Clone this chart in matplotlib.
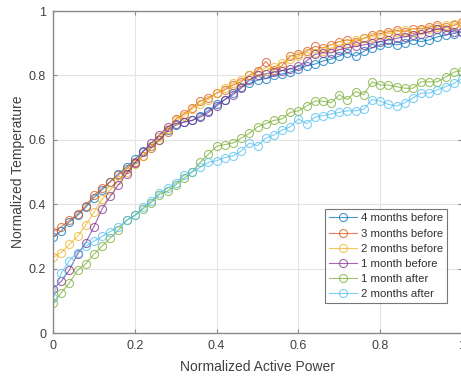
import numpy as np
import matplotlib
matplotlib.use("Agg")
import matplotlib.pyplot as plt
from matplotlib.ticker import FuncFormatter

x_power = [i / 50 for i in range(51)]

series_labels = ["4 months before", "3 months before", "2 months before",
                 "1 month before", "1 month after", "2 months after"]

months4_before = [0.297, 0.317, 0.345, 0.365, 0.39, 0.42, 0.445, 0.47, 0.495, 0.515,
                  0.54, 0.565, 0.58, 0.6, 0.63, 0.645, 0.655, 0.66, 0.675, 0.69,
                  0.71, 0.725, 0.745, 0.765, 0.775, 0.785, 0.79, 0.8, 0.805, 0.81,
                  0.82, 0.83, 0.835, 0.845, 0.85, 0.86, 0.87, 0.86, 0.875, 0.885,
                  0.895, 0.9, 0.895, 0.9, 0.91, 0.905, 0.91, 0.92, 0.925, 0.93, 0.935]
months3_before = [0.315, 0.33, 0.35, 0.37, 0.395, 0.428, 0.449, 0.47, 0.49, 0.51,
                  0.53, 0.55, 0.575, 0.6, 0.625, 0.665, 0.68, 0.70, 0.72, 0.73,
                  0.745, 0.755, 0.77, 0.78, 0.80, 0.815, 0.843, 0.817, 0.83, 0.86,
                  0.865, 0.875, 0.89, 0.885, 0.895, 0.905, 0.91, 0.905, 0.915, 0.925,
                  0.93, 0.935, 0.94, 0.935, 0.945, 0.945, 0.95, 0.955, 0.95, 0.955, 0.965]
months2_before = [0.235, 0.25, 0.275, 0.30, 0.335, 0.375, 0.415, 0.445, 0.475, 0.50,
                  0.525, 0.55, 0.58, 0.61, 0.635, 0.66, 0.675, 0.695, 0.71, 0.725,
                  0.745, 0.76, 0.775, 0.785, 0.80, 0.81, 0.815, 0.825, 0.84, 0.85,
                  0.86, 0.87, 0.87, 0.875, 0.885, 0.895, 0.90, 0.91, 0.915, 0.92,
                  0.925, 0.93, 0.935, 0.94, 0.935, 0.94, 0.945, 0.95, 0.955, 0.96, 0.96]
month1_before = [0.138, 0.16, 0.195, 0.245, 0.28, 0.33, 0.385, 0.425, 0.46, 0.495,
                 0.527, 0.563, 0.59, 0.615, 0.64, 0.65, 0.655, 0.66, 0.67, 0.685,
                 0.705, 0.725, 0.74, 0.76, 0.785, 0.80, 0.805, 0.81, 0.815, 0.82,
                 0.828, 0.845, 0.865, 0.87, 0.87, 0.88, 0.885, 0.89, 0.895, 0.90,
                 0.905, 0.91, 0.915, 0.92, 0.925, 0.93, 0.935, 0.945, 0.94, 0.935, 0.935]
month1_after = [0.092, 0.125, 0.155, 0.195, 0.215, 0.245, 0.27, 0.295, 0.32, 0.35,
                0.365, 0.385, 0.405, 0.43, 0.44, 0.46, 0.48, 0.50, 0.53, 0.555,
                0.58, 0.585, 0.59, 0.605, 0.62, 0.64, 0.65, 0.66, 0.665, 0.685,
                0.69, 0.705, 0.72, 0.72, 0.715, 0.74, 0.725, 0.75, 0.74, 0.78,
                0.77, 0.77, 0.765, 0.76, 0.76, 0.78, 0.78, 0.78, 0.795, 0.81, 0.815]
months2_after = [0.11, 0.185, 0.225, 0.25, 0.27, 0.285, 0.30, 0.315, 0.33, 0.35,
                 0.365, 0.39, 0.41, 0.435, 0.45, 0.465, 0.49, 0.50, 0.515, 0.53,
                 0.535, 0.545, 0.55, 0.565, 0.59, 0.582, 0.605, 0.615, 0.63, 0.64,
                 0.665, 0.65, 0.67, 0.675, 0.68, 0.685, 0.69, 0.69, 0.695, 0.725,
                 0.72, 0.71, 0.705, 0.715, 0.73, 0.745, 0.745, 0.755, 0.765, 0.775, 0.79]

all_series = [months4_before, months3_before, months2_before,
              month1_before, month1_after, months2_after]
colors = ["#0072BD", "#D95319", "#EDB120", "#7E2F8E", "#77AC30", "#4DBEEE"]

x_ticks = [0, 0.2, 0.4, 0.6, 0.8, 1]
y_ticks = [0, 0.2, 0.4, 0.6, 0.8, 1]

plt.rcParams['font.family'] = ['Liberation Sans', 'DejaVu Sans']

fig = plt.figure(figsize=(4.61, 3.77), dpi=100)
W, H = 461, 377
left, right, top, bottom = 53, 462, 11, 333
ax = fig.add_axes([left / W, 1 - bottom / H, (right - left) / W, (bottom - top) / H])

for ys, lab, c in zip(all_series, series_labels, colors):
    ax.plot(x_power, ys, '-o', color=c, markerfacecolor='none', markeredgecolor=c,
            markersize=5.8, linewidth=0.8, markeredgewidth=0.8, alpha=0.72, label=lab)

ax.set_xlim(0, 1)
ax.set_ylim(0, 1)
ax.set_xticks(x_ticks)
ax.set_yticks(y_ticks)
fmt = FuncFormatter(lambda v, p: ('%g' % v))
ax.xaxis.set_major_formatter(fmt)
ax.yaxis.set_major_formatter(fmt)
ax.grid(True, color='#e4e4e4', linewidth=0.8)
ax.set_axisbelow(True)
for s in ax.spines.values():
    s.set_color('#8a8a8a')
    s.set_linewidth(1.0)
ax.tick_params(direction='in', length=3, width=0.8, color='#8a8a8a',
               labelsize=9, labelcolor='#404040', top=True, right=True, pad=5)

ax.set_xlabel("Normalized Active Power", fontsize=10, color='#404040')
ax.set_ylabel("Normalized Temperature", fontsize=10, color='#404040')
ax.xaxis.set_label_coords(0.5, -0.085)
ax.yaxis.set_label_coords(-0.068, 0.5)

leg = ax.legend(loc='lower right', bbox_to_anchor=(0.963, 0.093), fontsize=8.2,
                frameon=True, fancybox=False, handlelength=2.5, labelspacing=0.45,
                borderpad=0.35, handletextpad=0.3, borderaxespad=0)
leg.get_frame().set_edgecolor('#555555')
leg.get_frame().set_linewidth(0.8)
for t in leg.get_texts():
    t.set_color('#303030')

fig.savefig("out.png", dpi=100)
